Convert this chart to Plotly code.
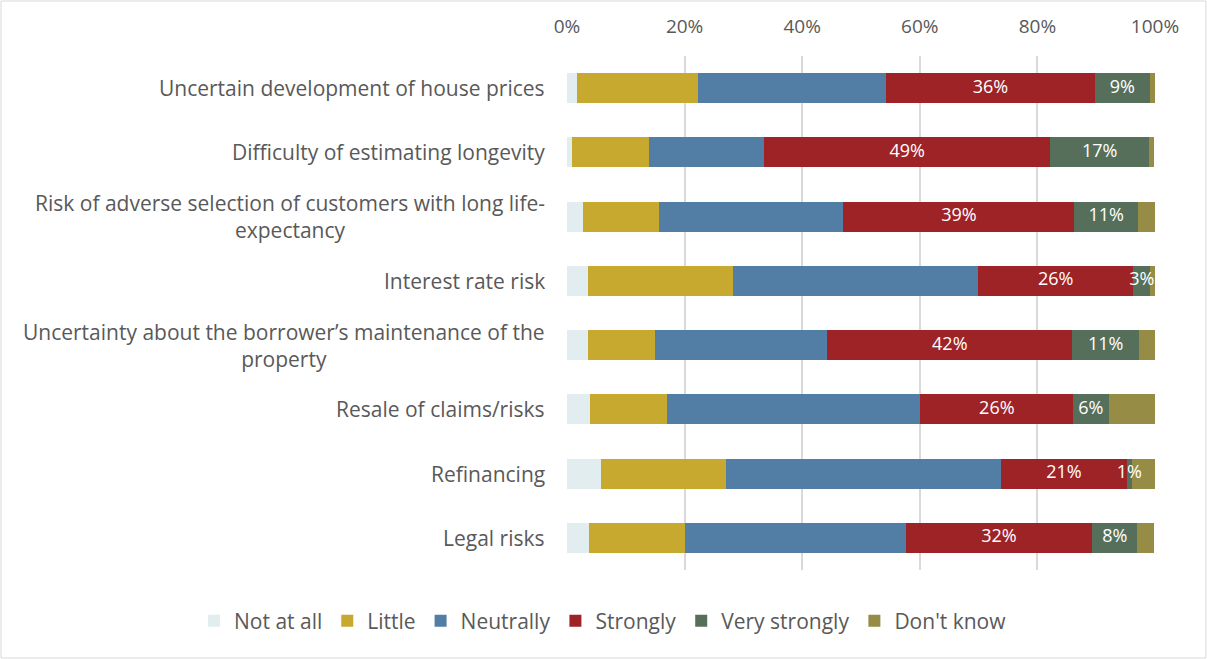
import plotly.graph_objects as go

categories = [
    "Uncertain development of house prices",
    "Difficulty of estimating longevity",
    "Risk of adverse selection of customers with long life-<br>expectancy",
    "Interest rate risk",
    "Uncertainty about the borrower\u2019s maintenance of the<br>property",
    "Resale of claims/risks",
    "Refinancing",
    "Legal risks",
]

not_at_all = [1.7, 0.8, 2.7, 3.6, 3.6, 3.9, 5.7, 3.7]
little = [20.6, 13.1, 12.9, 24.7, 11.4, 13.1, 21.4, 16.4]
neutrally = [31.9, 19.6, 31.4, 41.6, 29.3, 43.1, 46.7, 37.5]
strongly = [35.6, 48.7, 39.3, 26.4, 41.6, 26.0, 21.4, 31.7]
very_strongly = [9.3, 16.8, 10.8, 2.9, 11.4, 6.0, 0.85, 7.7]
dont_know = [0.9, 0.9, 2.9, 0.9, 2.7, 8.0, 3.9, 2.9]

series = [
    ("Not at all", not_at_all, "#E1EDEF", False),
    ("Little", little, "#C8A92F", False),
    ("Neutrally", neutrally, "#527EA5", False),
    ("Strongly", strongly, "#9E2327", True),
    ("Very strongly", very_strongly, "#566F5B", True),
    ("Don't know", dont_know, "#978C46", False),
]

FONT = "Open Sans"
GREY = "#595959"
W, H = 1207, 659
ML, MR, MT, MB = 567, 52, 56, 89
pw, ph = W - ML - MR, H - MT - MB

fig = go.Figure()
base = [0.0] * len(categories)
label_x, label_y, label_txt = [], [], []
for name, vals, color, labelled in series:
    fig.add_trace(go.Bar(
        y=categories, x=vals, name=name, orientation="h",
        marker=dict(color=color, line=dict(width=0)),
        hoverinfo="x+y+name",
    ))
    if labelled:
        for cat, b, v in zip(categories, base, vals):
            label_x.append(b + v / 2)
            label_y.append(cat)
            label_txt.append(f"{v:.0f}%")
    base = [b + v for b, v in zip(base, vals)]

# data labels on top of all bars, so small ones can spill over like in Excel
fig.add_trace(go.Scatter(
    x=label_x, y=label_y, text=label_txt, mode="text",
    textfont=dict(color="white", size=18, family=FONT),
    showlegend=False, hoverinfo="skip",
))

# category labels as annotations so wrapped lines are centred like the original
for cat in categories:
    fig.add_annotation(
        x=0, xref="paper", xanchor="right", xshift=-20,
        y=cat, yref="y", yanchor="middle",
        text=cat, showarrow=False, align="center",
        font=dict(family=FONT, size=21, color=GREY),
    )

fig.add_shape(
    type="rect", xref="paper", yref="paper",
    x0=-(ML - 1) / pw, x1=1 + (MR - 1) / pw,
    y0=-(MB - 1) / ph, y1=1 + (MT - 1) / ph,
    line=dict(color="#D9D9D9", width=1), layer="below",
)

fig.update_layout(
    width=W, height=H,
    barmode="stack", bargap=0.53,
    plot_bgcolor="white", paper_bgcolor="white",
    margin=dict(l=ML, r=MR, t=MT, b=MB),
    font=dict(family=FONT, size=17, color=GREY),
    xaxis=dict(
        side="top", range=[0, 100], dtick=20, ticksuffix="%",
        showgrid=True, gridcolor="#D9D9D9", gridwidth=1.5,
        zeroline=False, showline=False, ticklabelstandoff=18,
        tickfont=dict(size=19, color=GREY),
    ),
    yaxis=dict(autorange="reversed", showticklabels=False, showgrid=False,
               showline=False, zeroline=False),
    legend=dict(
        orientation="h", xref="paper", yref="paper",
        x=(194 - ML) / pw, xanchor="left",
        y=-(621 - (H - MB)) / ph, yanchor="middle",
        font=dict(size=21, color=GREY), traceorder="normal",
        itemwidth=30,
    ),
)

fig.write_html("out.html", config={"displayModeBar": False},
               post_script="document.body.style.margin='0';")
